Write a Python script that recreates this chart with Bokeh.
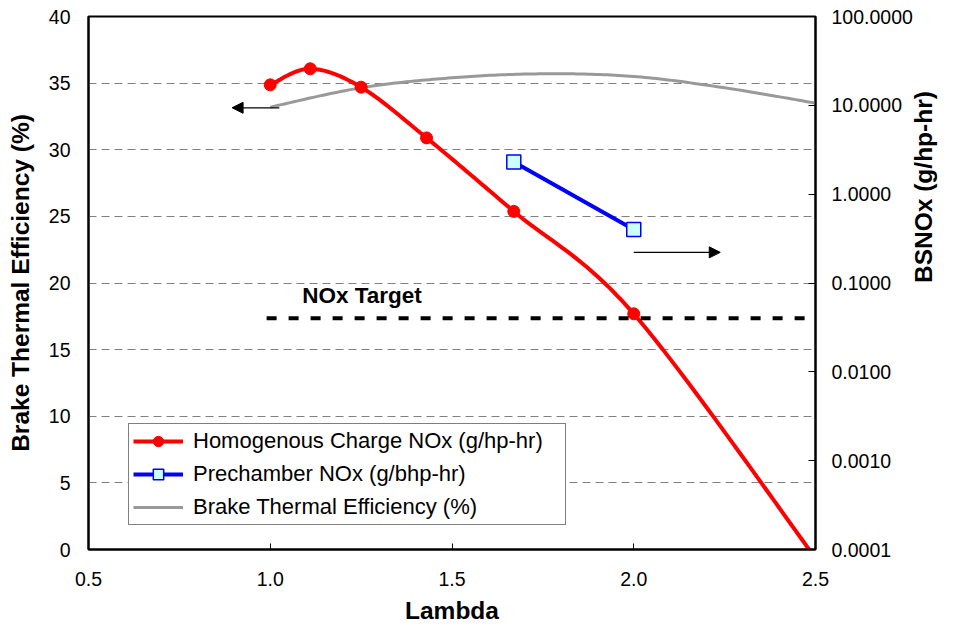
import math
import numpy as np
from bokeh.plotting import figure
from bokeh.models import (Range1d, LogScale, LogAxis, FixedTicker, CustomJSTickFormatter,
                          Legend, LegendItem, Arrow, NormalHead, Label)
from bokeh.embed import file_html
from bokeh.resources import INLINE

# ---------------- data ----------------
LAMBDA_HOMO = [1.0, 1.11, 1.25, 1.43, 1.67, 2.0, 2.5]
NOX_HOMO = [17.0, 25.8, 16.0, 4.3, 0.64, 0.045, 0.00008]

LAMBDA_PRE = [1.67, 2.0]
NOX_PRE = [2.3, 0.4]

LAMBDA_BTE = [1.0, 1.25, 1.5, 1.75, 2.0, 2.25, 2.5]
BTE = [33.2, 34.65, 35.4, 35.7, 35.5, 34.65, 33.5]

NOX_TARGET = 0.04
TARGET_LAMBDA = [0.99, 2.55]

X_TICKS = [0.5, 1.0, 1.5, 2.0, 2.5]
LEFT_TICKS = [0, 5, 10, 15, 20, 25, 30, 35, 40]
GRID_TICKS = [5, 10, 15, 20, 25, 30, 35]
RIGHT_TICKS = [0.0001, 0.001, 0.01, 0.1, 1, 10, 100]

# annotation arrows (lambda start, lambda end, BTE level)
ARROW_LEFT = (1.025, 0.895, 33.15)
ARROW_RIGHT = (2.0, 2.238, 22.3)

FONT = "Liberation Sans"


def smooth(xs, ys, n=24):
    """Excel-style smoothed line (cubic Bezier / Catmull-Rom through points)."""
    P = np.column_stack([xs, ys]).astype(float)
    ext = np.vstack([P[0], P, P[-1]])
    out = [P[0]]
    t = np.linspace(0, 1, n + 1)[1:, None]
    for i in range(len(P) - 1):
        p0, p1, p2, p3 = ext[i], ext[i + 1], ext[i + 2], ext[i + 3]
        c1 = p1 + (p2 - p0) / 6.0
        c2 = p2 - (p3 - p1) / 6.0
        seg = ((1 - t) ** 3) * p1 + 3 * ((1 - t) ** 2) * t * c1 + 3 * (1 - t) * (t ** 2) * c2 + (t ** 3) * p2
        out.extend(seg)
    return np.array(out)


p = figure(width=953, height=630, x_range=Range1d(0.5, 2.5), y_range=Range1d(0, 40),
           output_backend="svg", toolbar_location=None,
           min_border_left=88, min_border_right=134, min_border_top=16, min_border_bottom=81)
p.extra_y_ranges = {"nox": Range1d(0.0001, 100)}
p.extra_y_scales = {"nox": LogScale()}

p.outline_line_color = "black"
p.outline_line_width = 2
p.background_fill_color = "white"
p.border_fill_color = "white"

# grid
p.xgrid.visible = False
p.ygrid.ticker = FixedTicker(ticks=GRID_TICKS)
p.ygrid.grid_line_color = "#808080"
p.ygrid.grid_line_dash = "8 5"
p.ygrid.grid_line_width = 1

# x axis
xa = p.xaxis[0]
xa.ticker = FixedTicker(ticks=X_TICKS)
xa.formatter = CustomJSTickFormatter(code="return tick.toFixed(1);")
xa.axis_label = "Lambda"
xa.axis_line_width = 2
xa.axis_line_color = "black"
xa.major_tick_in = 6
xa.major_tick_out = 0
xa.minor_tick_line_color = None
xa.major_label_standoff = 22
xa.axis_label_standoff = 8

# left axis
ya = p.yaxis[0]
ya.ticker = FixedTicker(ticks=LEFT_TICKS)
ya.axis_label = "Brake Thermal Efficiency (%)"
ya.axis_line_width = 2
ya.axis_line_color = "black"
ya.major_tick_in = 0
ya.major_tick_out = 0
ya.minor_tick_line_color = None
ya.major_label_standoff = 18
ya.axis_label_standoff = 12

# right log axis
ra = LogAxis(y_range_name="nox", ticker=FixedTicker(ticks=RIGHT_TICKS),
             formatter=CustomJSTickFormatter(code="return tick.toFixed(4);"))
ra.axis_label = "BSNOx (g/hp-hr)"
ra.axis_line_width = 2
ra.axis_line_color = "black"
ra.major_tick_in = 7
ra.major_tick_out = 0
ra.minor_tick_line_color = None
ra.major_label_standoff = 16
ra.axis_label_standoff = 8
ra.axis_label_orientation = math.pi / 2
p.add_layout(ra, "right")

for ax in (xa, ya, ra):
    ax.major_label_text_font = FONT
    ax.major_label_text_font_size = "19.5px"
    ax.major_label_text_color = "black"
    ax.axis_label_text_font = FONT
    ax.axis_label_text_font_size = "24.5px"
    ax.axis_label_text_font_style = "bold"
    ax.axis_label_text_color = "black"

# ---------------- series ----------------
bte_s = smooth(LAMBDA_BTE, BTE)
r_bte = p.line(bte_s[:, 0], bte_s[:, 1], line_color="#999999", line_width=3)

homo_s = smooth(LAMBDA_HOMO, np.log10(NOX_HOMO))
r_homo_line = p.line(homo_s[:, 0], 10 ** homo_s[:, 1], line_color="#FF0000", line_width=4,
                     y_range_name="nox")
r_homo_pts = p.scatter(LAMBDA_HOMO, NOX_HOMO, marker="circle", size=12, fill_color="#FF0000",
                       line_color="#FF0000", y_range_name="nox")

r_pre_line = p.line(LAMBDA_PRE, NOX_PRE, line_color="#0000FF", line_width=4, y_range_name="nox")
r_pre_pts = p.scatter(LAMBDA_PRE, NOX_PRE, marker="square", size=14, fill_color="#CCFFFF",
                      line_color="#0000FF", line_width=1.5, y_range_name="nox")

# NOx target
p.line(TARGET_LAMBDA, [NOX_TARGET, NOX_TARGET], line_color="black", line_width=4,
       line_dash="10 12", y_range_name="nox")
p.add_layout(Label(x=1.088, y=NOX_TARGET, y_range_name="nox", y_offset=23, text="NOx Target",
                   text_font=FONT, text_font_size="22.5px", text_font_style="bold",
                   text_baseline="middle", text_align="left", text_color="black"))

# arrows
p.add_layout(Arrow(x_start=ARROW_LEFT[0], x_end=ARROW_LEFT[1], y_start=ARROW_LEFT[2], y_end=ARROW_LEFT[2],
                   line_width=1.2, line_color="black",
                   end=NormalHead(size=11, fill_color="black", line_color="black")))
p.add_layout(Arrow(x_start=ARROW_RIGHT[0], x_end=ARROW_RIGHT[1], y_start=ARROW_RIGHT[2], y_end=ARROW_RIGHT[2],
                   line_width=1.2, line_color="black",
                   end=NormalHead(size=11, fill_color="black", line_color="black")))

# legend
legend = Legend(items=[
    LegendItem(label="Homogenous Charge NOx (g/hp-hr)", renderers=[r_homo_line, r_homo_pts]),
    LegendItem(label="Prechamber NOx (g/bhp-hr)", renderers=[r_pre_line, r_pre_pts]),
    LegendItem(label="Brake Thermal Efficiency (%)", renderers=[r_bte]),
], location=(40, 24))
legend.label_text_font = FONT
legend.label_text_font_size = "22px"
legend.label_text_color = "black"
legend.border_line_color = "black"
legend.border_line_width = 1
legend.background_fill_color = "white"
legend.background_fill_alpha = 1
legend.padding = 4
legend.margin = 0
legend.spacing = 7
legend.label_height = 26
legend.glyph_height = 26
legend.glyph_width = 50
legend.label_standoff = 10
legend.label_width = 368
p.add_layout(legend, "center")

open("out.html", "w").write(file_html(p, INLINE))
